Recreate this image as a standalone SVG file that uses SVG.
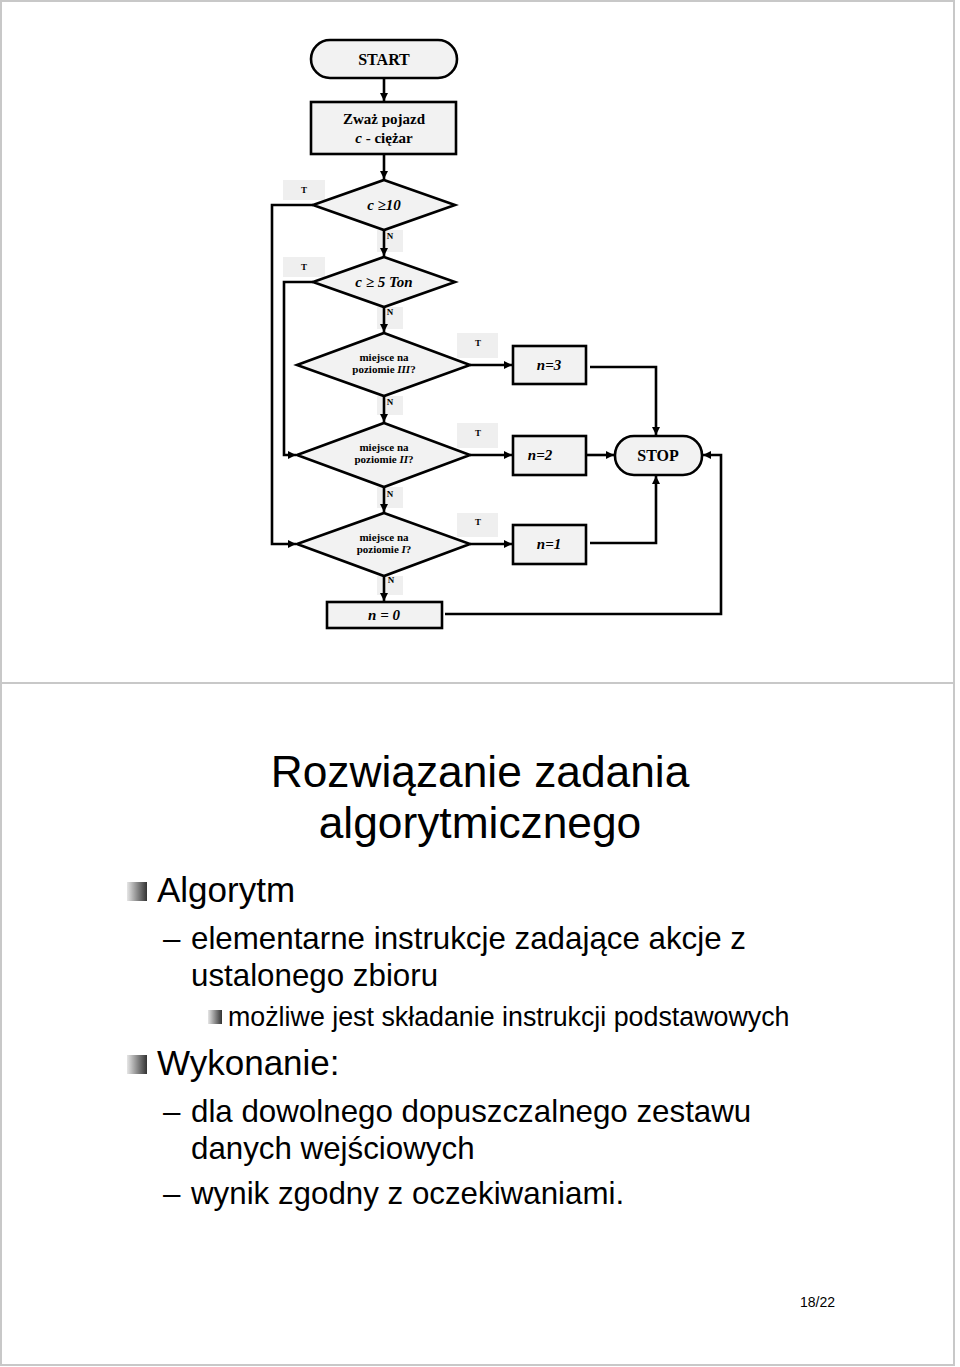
<svg xmlns="http://www.w3.org/2000/svg" width="960" height="1367" viewBox="0 0 960 1367">
<style>
.shape{fill:#f2f2f2;stroke:#000;stroke-width:2.6}
.conn{fill:none;stroke:#000;stroke-width:2.6}
.lbl{fill:#efefef;stroke:none}
.fc{font-family:"Liberation Serif",serif;font-weight:bold;fill:#000;text-anchor:middle}
.it{font-style:italic}
.tn{font-family:"Liberation Serif",serif;font-weight:bold;font-size:9px;fill:#000;text-anchor:middle}
.sl{font-family:"Liberation Sans",Arial,sans-serif;fill:#000}
</style>
<defs>
<marker id="ah" viewBox="0 0 10 10" refX="10" refY="5" markerWidth="8" markerHeight="8" markerUnits="userSpaceOnUse" orient="auto">
<path d="M0,0 L10,5 L0,10 z" fill="#000"/>
</marker>
<linearGradient id="bul" x1="0" y1="0" x2="1" y2="0">
<stop offset="0" stop-color="#e6e6e6"/>
<stop offset="1" stop-color="#333"/>
</linearGradient>
</defs>
<rect width="960" height="1367" fill="#fff"/>
<rect x="1" y="1" width="953" height="1364" fill="none" stroke="#c8c8c8" stroke-width="2"/>
<line x1="0" y1="683" x2="954" y2="683" stroke="#c8c8c8" stroke-width="2"/>

<g id="labels">
<rect class="lbl" x="283" y="180" width="42" height="20"/>
<rect class="lbl" x="283" y="257" width="42" height="20"/>
<rect class="lbl" x="377" y="230" width="26" height="22"/>
<rect class="lbl" x="377" y="307" width="26" height="22"/>
<rect class="lbl" x="377" y="396" width="26" height="19"/>
<rect class="lbl" x="377" y="487" width="26" height="21"/>
<rect class="lbl" x="377" y="576" width="26" height="19"/>
<rect class="lbl" x="457" y="333" width="41" height="25"/>
<rect class="lbl" x="457" y="423" width="41" height="25"/>
<rect class="lbl" x="457" y="513" width="41" height="24"/>
<text class="tn" x="304" y="193">T</text>
<text class="tn" x="304" y="270">T</text>
<text class="tn" x="390" y="239">N</text>
<text class="tn" x="390" y="315">N</text>
<text class="tn" x="390" y="405">N</text>
<text class="tn" x="390" y="497">N</text>
<text class="tn" x="391" y="583">N</text>
<text class="tn" x="478" y="346">T</text>
<text class="tn" x="478" y="436">T</text>
<text class="tn" x="478" y="525">T</text>
</g>

<g id="connectors">
<path class="conn" d="M384,78 V101" marker-end="url(#ah)"/>
<path class="conn" d="M384,154 V179" marker-end="url(#ah)"/>
<path class="conn" d="M384,230 V256" marker-end="url(#ah)"/>
<path class="conn" d="M384,307 V332" marker-end="url(#ah)"/>
<path class="conn" d="M384,396 V422" marker-end="url(#ah)"/>
<path class="conn" d="M384,487 V512" marker-end="url(#ah)"/>
<path class="conn" d="M384,576 V601" marker-end="url(#ah)"/>
<path class="conn" d="M313,205 H272 V544 H296" marker-end="url(#ah)"/>
<path class="conn" d="M313,282 H284 V455 H296" marker-end="url(#ah)"/>
<path class="conn" d="M470,365 H512" marker-end="url(#ah)"/>
<path class="conn" d="M470,455 H512" marker-end="url(#ah)"/>
<path class="conn" d="M470,544 H512" marker-end="url(#ah)"/>
<path class="conn" d="M590,367 H656 V435" marker-end="url(#ah)"/>
<path class="conn" d="M586,455 H614" marker-end="url(#ah)"/>
<path class="conn" d="M590,543 H656 V476" marker-end="url(#ah)"/>
<path class="conn" d="M445,614 H721 V455 H703" marker-end="url(#ah)"/>
</g>

<g id="start">
<rect class="shape" x="311" y="40" width="146" height="38" rx="19"/>
<text class="fc" x="384" y="65" font-size="16">START</text>
</g>
<g id="weigh">
<rect class="shape" x="311" y="102" width="145" height="52"/>
<text class="fc" x="384" y="124" font-size="15">Zważ pojazd</text>
<text class="fc" x="384" y="143" font-size="15"><tspan class="it">c</tspan> - ciężar</text>
</g>
<g id="d1">
<polygon class="shape" points="384,180 455,205 384,230 313,205"/>
<text class="fc it" x="384" y="210" font-size="15">c ≥10</text>
</g>
<g id="d2">
<polygon class="shape" points="384,257 455,282 384,307 313,282"/>
<text class="fc it" x="384" y="287" font-size="15">c ≥ 5 Ton</text>
</g>
<g id="d3">
<polygon class="shape" points="384,333 470,365 384,396 297,365"/>
<text class="fc" x="384" y="361" font-size="11">miejsce na</text>
<text class="fc" x="384" y="373" font-size="11">poziomie <tspan class="it">III</tspan>?</text>
</g>
<g id="d4">
<polygon class="shape" points="384,423 470,455 384,487 297,455"/>
<text class="fc" x="384" y="451" font-size="11">miejsce na</text>
<text class="fc" x="384" y="463" font-size="11">poziomie  <tspan class="it">II</tspan>?</text>
</g>
<g id="d5">
<polygon class="shape" points="384,513 470,544 384,576 297,544"/>
<text class="fc" x="384" y="541" font-size="11">miejsce na</text>
<text class="fc" x="384" y="553" font-size="11">poziomie <tspan class="it">I</tspan>?</text>
</g>
<g id="n3">
<rect class="shape" x="513" y="346" width="73" height="38"/>
<text class="fc it" x="549" y="370" font-size="15">n=3</text>
</g>
<g id="n2">
<rect class="shape" x="513" y="436" width="73" height="39"/>
<text class="fc it" x="540" y="460" font-size="15">n=2</text>
</g>
<g id="n1">
<rect class="shape" x="513" y="525" width="73" height="39"/>
<text class="fc it" x="549" y="549" font-size="15">n=1</text>
</g>
<g id="n0">
<rect class="shape" x="327" y="602" width="115" height="26"/>
<text class="fc it" x="384" y="620" font-size="15">n = 0</text>
</g>
<g id="stop">
<rect class="shape" x="615" y="436" width="87" height="39" rx="19"/>
<text class="fc" x="658" y="461" font-size="16">STOP</text>
</g>

<g id="slide">
<text class="sl" x="480" y="787" font-size="44.3" text-anchor="middle">Rozwiązanie zadania</text>
<text class="sl" x="480" y="838" font-size="44.3" text-anchor="middle">algorytmicznego</text>
<rect x="127" y="882" width="20" height="19" fill="url(#bul)"/>
<text class="sl" x="157" y="902" font-size="35">Algorytm</text>
<text class="sl" x="163" y="949" font-size="31.3">–</text>
<text class="sl" x="191" y="949" font-size="31.3">elementarne instrukcje zadające akcje z</text>
<text class="sl" x="191" y="986" font-size="31.3">ustalonego zbioru</text>
<rect x="208" y="1010" width="14" height="14" fill="url(#bul)"/>
<text class="sl" x="228" y="1026" font-size="26.8">możliwe jest składanie instrukcji podstawowych</text>
<rect x="127" y="1055" width="20" height="19" fill="url(#bul)"/>
<text class="sl" x="157" y="1075" font-size="35">Wykonanie:</text>
<text class="sl" x="163" y="1122" font-size="31.3">–</text>
<text class="sl" x="191" y="1122" font-size="31.3">dla dowolnego dopuszczalnego zestawu</text>
<text class="sl" x="191" y="1159" font-size="31.3">danych wejściowych</text>
<text class="sl" x="163" y="1204" font-size="31.3">–</text>
<text class="sl" x="191" y="1204" font-size="31.3">wynik zgodny z oczekiwaniami.</text>
<text class="sl" x="800" y="1307" font-size="14">18/22</text>
</g>
</svg>
